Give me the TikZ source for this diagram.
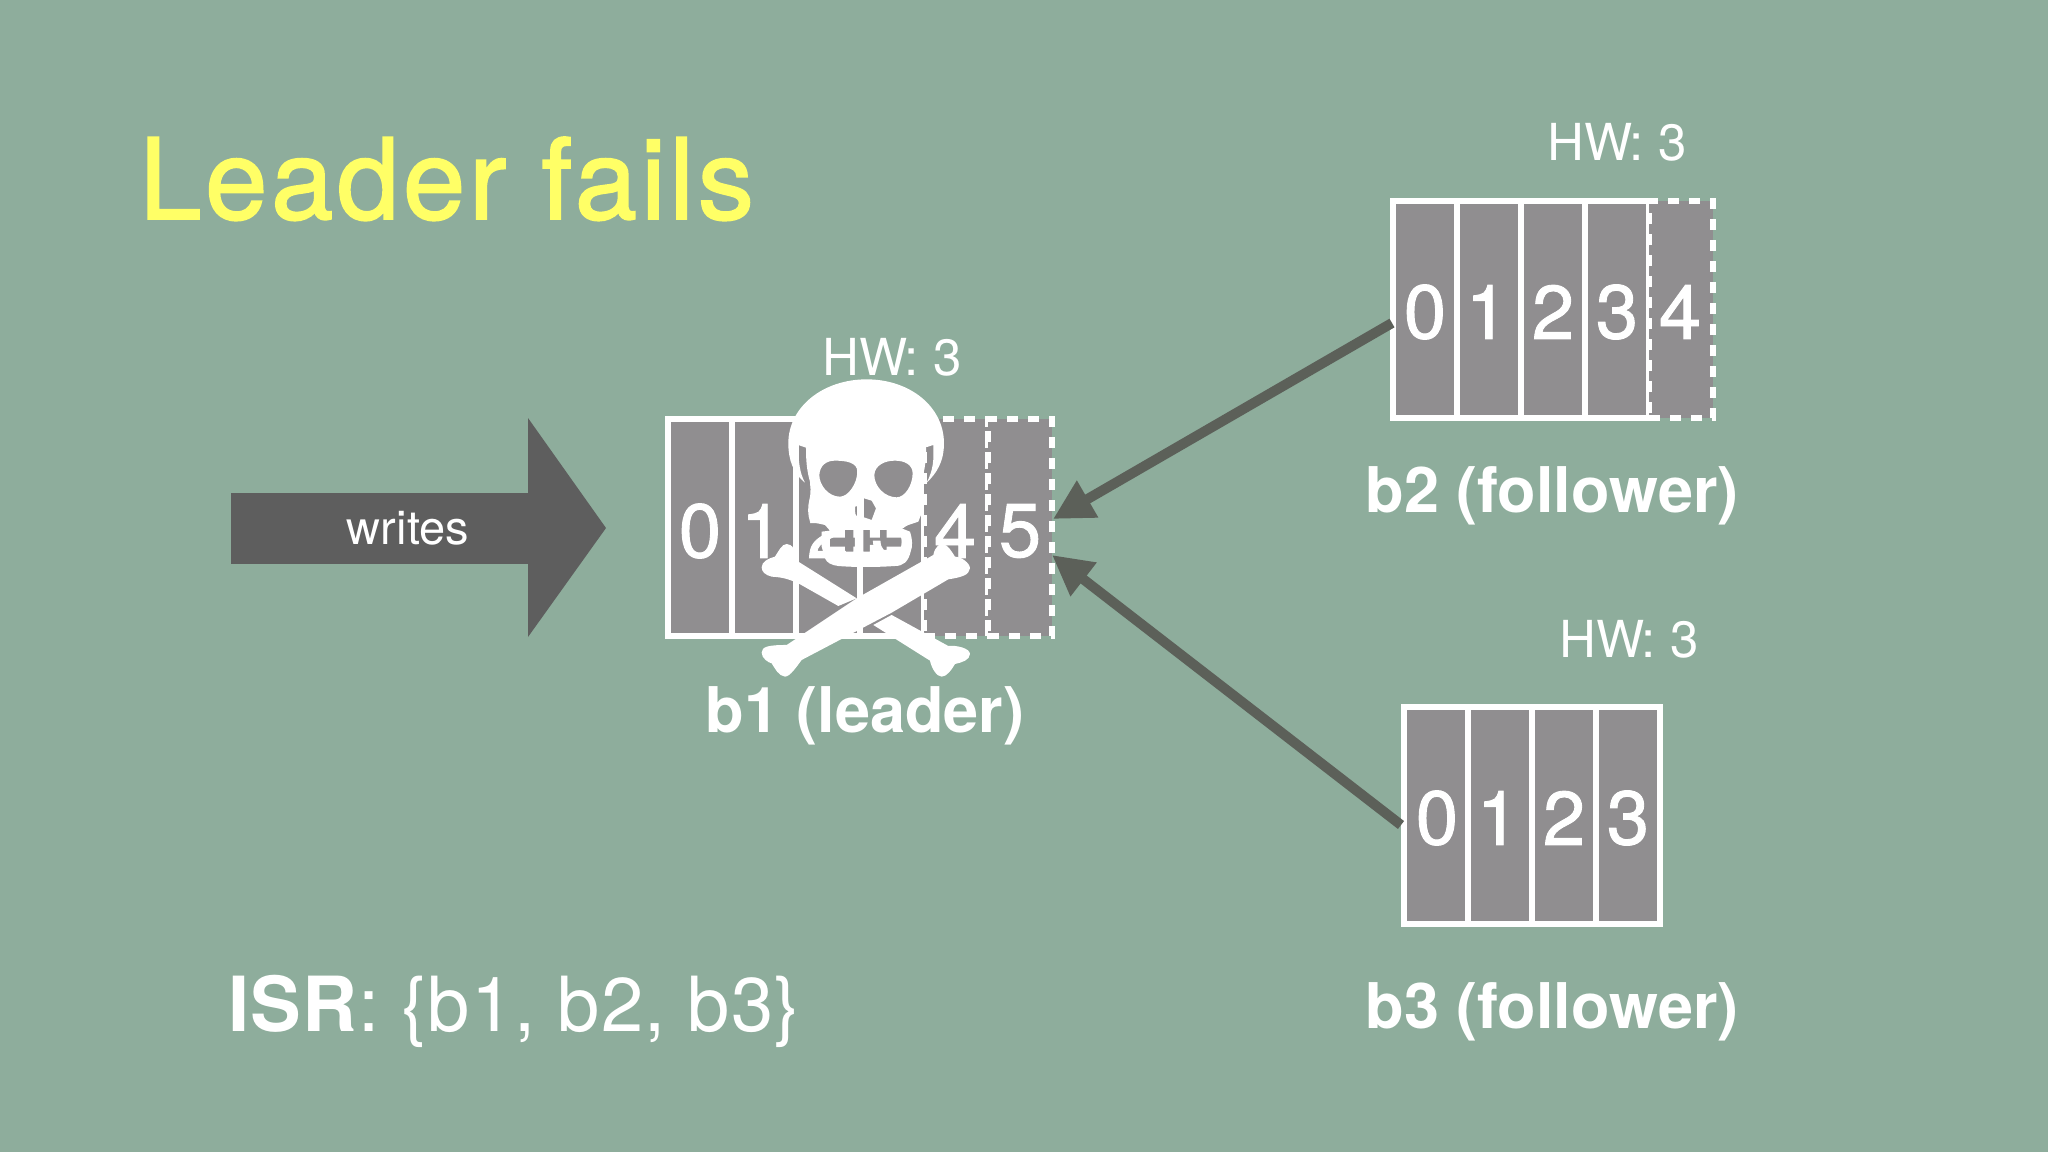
\documentclass[tikz,border=0pt]{standalone}
\usepackage{fontspec}
\setmainfont{TeX Gyre Heros}
\newfontfamily\ttlfont[LetterSpace=3.3,FakeBold=1.6]{TeX Gyre Heros}
\newfontfamily\digfont[FakeBold=1.2]{TeX Gyre Heros}
\newfontfamily\isrfont[LetterSpace=1.4]{TeX Gyre Heros}
\usetikzlibrary{arrows.meta}
\definecolor{bgc}{HTML}{8EAD9C}
\definecolor{cellc}{HTML}{908E90}
\definecolor{arrc}{HTML}{5C6059}
\definecolor{ttl}{HTML}{FFFF66}
\definecolor{wr}{HTML}{5E5E5E}
\tikzset{x=1pt,y=-1pt,
 cellbox/.style={draw=white,fill=cellc,line width=5.5pt,minimum width=64pt,minimum height=217pt,inner sep=0pt,outer sep=0pt,anchor=north west},
 dashbox/.style={cellbox,dash pattern=on 11pt off 10pt},
 digit/.style={text=white,font=\digfont\fontsize{76}{76}\selectfont,inner sep=0pt},
 hw/.style={text=white,font=\fontsize{51}{51}\selectfont,inner sep=0pt,anchor=base},
 brok/.style={text=white,font=\bfseries\fontsize{63}{63}\selectfont,inner sep=0pt,anchor=base},
 link/.style={draw=arrc,line width=10pt,-{Triangle[length=40pt,width=40pt]}},
 skullw/.style={fill=white}}
\begin{document}
\begin{tikzpicture}
\useasboundingbox (0,0) rectangle (2048,1152);
\fill[bgc] (0,0) rectangle (2048,1152);
\node[text=ttl,font=\ttlfont\fontsize{112}{112}\selectfont,inner sep=0pt,anchor=base west] (title) at (139,219) {Leader fails};
% writes arrow
\node[fill=wr,draw=none,inner sep=0pt,minimum width=297pt,minimum height=71pt,anchor=west] (wbody) at (231,528) {};
\fill[wr] (528,418) -- (606,528) -- (528,637) -- cycle;
\node[text=white,font=\fontsize{47}{47}\selectfont,inner sep=0pt] (wtext) at (408,528) {writes};
% b1
\node[cellbox] (a0) at (668,419) {};
\node[cellbox] (a1) at (732,419) {};
\node[cellbox] (a2) at (796,419) {};
\node[cellbox] (a3) at (860,419) {};
\node[dashbox] (a4) at (924,419) {};
\node[dashbox] (a5) at (988,419) {};
\foreach \n/\x/\d in {t0/700/0,t1/762/1,t2/828/2,t3/892/3,t4/955/4,t5/1020/5}
  \node[digit] (\n) at (\x,531) {\d};
\node[hw] (hwa) at (892,375) {HW: 3};
\node[brok] (la) at (865,732) {b1 (leader)};
% b2
\node[cellbox] (b0) at (1393,201) {};
\node[cellbox] (b1) at (1457,201) {};
\node[cellbox] (b2) at (1521,201) {};
\node[cellbox] (b3) at (1585,201) {};
\node[dashbox] (b4) at (1649,201) {};
\foreach \n/\x/\d in {u0/1425/0,u1/1487/1,u2/1553/2,u3/1617/3,u4/1680/4}
  \node[digit] (\n) at (\x,312) {\d};
\node[hw] (hwb) at (1617,160) {HW: 3};
\node[brok] (lb) at (1552,512) {b2 (follower)};
% b3
\node[cellbox] (c0) at (1404,707) {};
\node[cellbox] (c1) at (1468,707) {};
\node[cellbox] (c2) at (1532,707) {};
\node[cellbox] (c3) at (1596,707) {};
\foreach \n/\x/\d in {v0/1437/0,v1/1498/1,v2/1564/2,v3/1628/3}
  \node[digit] (\n) at (\x,818) {\d};
\node[hw] (hwc) at (1629,657) {HW: 3};
\node[brok] (lc) at (1552,1028) {b3 (follower)};
\node[text=white,font=\isrfont\fontsize{76}{76}\selectfont,inner sep=0pt,anchor=base west] (isr) at (228,1031) {\textbf{ISR}: \{b1, b2, b3\}};
% connectors
\coordinate (pa) at (1053,519);
\coordinate (pb) at (1052,555);
\coordinate (qb) at (1392,323);
\coordinate (qc) at (1401,825);
\draw[link] (qb) -- (pa);
\draw[link] (qc) -- (pb);
% skull, in a local frame of 1/3 px
\begin{scope}[shift={(640,330)},x=0.3333pt,y=-0.3333pt]
\fill[skullw,even odd rule]
 (495,458) .. controls (460,430) and (445,390) .. (445,340)
 .. controls (445,230) and (550,148) .. (680,148)
 .. controls (810,148) and (912,230) .. (912,340)
 .. controls (912,395) and (890,430) .. (860,458)
 .. controls (880,420) and (882,390) .. (880,345)
 -- (858,352) .. controls (860,400) and (850,430) .. (845,460)
 .. controls (850,490) and (850,530) .. (845,550)
 -- (835,575) -- (805,585) -- (785,595) -- (810,605)
 .. controls (818,630) and (818,650) .. (812,665)
 .. controls (805,695) and (790,708) .. (765,708)
 .. controls (710,712) and (640,712) .. (595,708)
 .. controls (575,706) and (560,698) .. (555,685)
 -- (545,650) -- (545,605) -- (570,602) -- (555,585) -- (510,575)
 .. controls (503,555) and (503,530) .. (508,510)
 .. controls (515,480) and (510,470) .. (510,455)
 .. controls (500,420) and (498,390) .. (498,353)
 -- (475,345) .. controls (475,400) and (480,430) .. (495,458) -- cycle
 % eyes
 (538,435) .. controls (540,405) and (560,392) .. (585,392)
 .. controls (620,392) and (652,398) .. (652,425)
 .. controls (652,460) and (625,500) .. (600,500)
 .. controls (565,500) and (538,465) .. (538,435) -- cycle
 (703,435) .. controls (705,405) and (735,392) .. (765,392)
 .. controls (795,392) and (818,405) .. (818,430)
 .. controls (818,465) and (795,502) .. (770,502)
 .. controls (735,502) and (703,470) .. (703,435) -- cycle
 % nose
 (672,505) -- (695,512) -- (708,535) -- (695,570) -- (672,562) -- cycle
 (645,530) -- (653,528) -- (655,565) -- (646,552) -- cycle
 % teeth
 (570,623) -- (615,623) -- (615,600) -- (640,600) -- (640,623) -- (645,623) -- (645,650) -- (640,650) -- (640,665) -- (615,665) -- (615,650) -- (570,650) -- cycle
 (670,600) -- (690,600) -- (690,623) -- (720,623) -- (720,600) -- (740,600) -- (740,623) -- (785,623) -- (785,650) -- (740,650) -- (740,660) -- (720,660) -- (720,645) -- (690,645) -- (690,665) -- (670,665) -- cycle;
% bones
\fill[skullw] (650,805) -- (595,828) -- (475,760)
 .. controls (440,745) and (425,742) .. (395,740)
 .. controls (375,735) and (365,725) .. (365,712)
 .. controls (365,695) and (385,685) .. (405,680)
 .. controls (415,665) and (425,642) .. (440,642)
 .. controls (455,642) and (470,660) .. (475,695) -- cycle;
\fill[skullw] (755,855) -- (925,948)
 .. controls (950,945) and (990,955) .. (990,972)
 .. controls (990,990) and (965,998) .. (945,1002)
 .. controls (935,1020) and (920,1040) .. (905,1040)
 .. controls (890,1040) and (875,1015) .. (870,992) -- (700,885) -- cycle;
\fill[skullw] (880,675) .. controls (885,650) and (900,640) .. (908,642)
 .. controls (925,645) and (935,665) .. (945,680)
 .. controls (965,680) and (990,700) .. (990,715)
 .. controls (988,735) and (965,742) .. (925,748)
 -- (755,848) -- (485,990)
 .. controls (470,1010) and (450,1040) .. (435,1040)
 .. controls (415,1038) and (405,1015) .. (395,1000)
 .. controls (385,998) and (365,985) .. (365,968)
 .. controls (365,950) and (385,945) .. (440,945)
 -- (650,805) -- cycle;
\end{scope}
\end{tikzpicture}
\end{document}
